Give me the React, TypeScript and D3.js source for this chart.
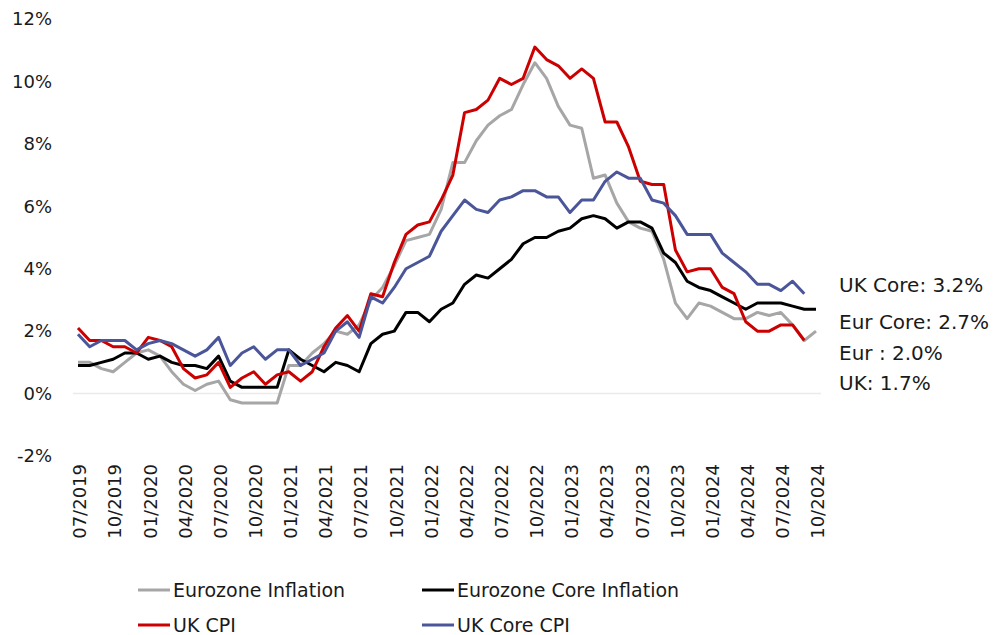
import React, { useEffect, useRef } from 'react';
import * as d3 from 'd3';

// monthly, 07/2019 .. 10/2024
const months: string[] = [];
for (let y = 2019; y <= 2024; y++) {
  for (let m = 1; m <= 12; m++) {
    if (y === 2019 && m < 7) continue;
    if (y === 2024 && m > 10) continue;
    months.push((m < 10 ? '0' + m : '' + m) + '/' + y);
  }
}

const tickLabels = [
  '07/2019', '10/2019', '01/2020', '04/2020', '07/2020', '10/2020', '01/2021', '04/2021',
  '07/2021', '10/2021', '01/2022', '04/2022', '07/2022', '10/2022', '01/2023', '04/2023',
  '07/2023', '10/2023', '01/2024', '04/2024', '07/2024', '10/2024',
];

const yTicks = [-2, 0, 2, 4, 6, 8, 10, 12];

const euroInflation = [
  1.0, 1.0, 0.8, 0.7, 1.0, 1.3,
  1.4, 1.2, 0.7, 0.3, 0.1, 0.3, 0.4, -0.2, -0.3, -0.3, -0.3, -0.3,
  0.9, 0.9, 1.3, 1.6, 2.0, 1.9, 2.2, 3.0, 3.4, 4.1, 4.9, 5.0,
  5.1, 5.9, 7.4, 7.4, 8.1, 8.6, 8.9, 9.1, 9.9, 10.6, 10.1, 9.2,
  8.6, 8.5, 6.9, 7.0, 6.1, 5.5, 5.3, 5.2, 4.3, 2.9, 2.4, 2.9,
  2.8, 2.6, 2.4, 2.4, 2.6, 2.5, 2.6, 2.2, 1.7, 2.0,
];

const euroCore = [
  0.9, 0.9, 1.0, 1.1, 1.3, 1.3,
  1.1, 1.2, 1.0, 0.9, 0.9, 0.8, 1.2, 0.4, 0.2, 0.2, 0.2, 0.2,
  1.4, 1.1, 0.9, 0.7, 1.0, 0.9, 0.7, 1.6, 1.9, 2.0, 2.6, 2.6,
  2.3, 2.7, 2.9, 3.5, 3.8, 3.7, 4.0, 4.3, 4.8, 5.0, 5.0, 5.2,
  5.3, 5.6, 5.7, 5.6, 5.3, 5.5, 5.5, 5.3, 4.5, 4.2, 3.6, 3.4,
  3.3, 3.1, 2.9, 2.7, 2.9, 2.9, 2.9, 2.8, 2.7, 2.7,
];

const ukCpi = [
  2.1, 1.7, 1.7, 1.5, 1.5, 1.3,
  1.8, 1.7, 1.5, 0.8, 0.5, 0.6, 1.0, 0.2, 0.5, 0.7, 0.3, 0.6,
  0.7, 0.4, 0.7, 1.5, 2.1, 2.5, 2.0, 3.2, 3.1, 4.2, 5.1, 5.4,
  5.5, 6.2, 7.0, 9.0, 9.1, 9.4, 10.1, 9.9, 10.1, 11.1, 10.7, 10.5,
  10.1, 10.4, 10.1, 8.7, 8.7, 7.9, 6.8, 6.7, 6.7, 4.6, 3.9, 4.0,
  4.0, 3.4, 3.2, 2.3, 2.0, 2.0, 2.2, 2.2, 1.7,
];

const ukCore = [
  1.9, 1.5, 1.7, 1.7, 1.7, 1.4,
  1.6, 1.7, 1.6, 1.4, 1.2, 1.4, 1.8, 0.9, 1.3, 1.5, 1.1, 1.4,
  1.4, 0.9, 1.1, 1.3, 2.0, 2.3, 1.8, 3.1, 2.9, 3.4, 4.0, 4.2,
  4.4, 5.2, 5.7, 6.2, 5.9, 5.8, 6.2, 6.3, 6.5, 6.5, 6.3, 6.3,
  5.8, 6.2, 6.2, 6.8, 7.1, 6.9, 6.9, 6.2, 6.1, 5.7, 5.1, 5.1,
  5.1, 4.5, 4.2, 3.9, 3.5, 3.5, 3.3, 3.6, 3.2,
];

const series = [
  { name: 'Eurozone Inflation', values: euroInflation, color: '#A6A6A6' },
  { name: 'Eurozone Core Inflation', values: euroCore, color: '#000000' },
  { name: 'UK CPI', values: ukCpi, color: '#CC0000' },
  { name: 'UK Core CPI', values: ukCore, color: '#4A5699' },
];

const endLabels = ['UK Core: 3.2%', 'Eur Core: 2.7%', 'Eur : 2.0%', 'UK: 1.7%'];

const W = 993;
const H = 635;
const FONT = '"DejaVu Sans", sans-serif';

export default function App() {
  const svgRef = useRef<SVGSVGElement>(null);

  useEffect(() => {
    const svg = d3.select(svgRef.current);
    svg.selectAll('*').remove();

    const x = d3.scalePoint<string>().domain(months).range([78, 816]);
    const y = d3.scaleLinear().domain([-2, 12]).range([456, 19]);

    // zero line
    svg.append('line')
      .attr('x1', 73).attr('x2', 821)
      .attr('y1', y(0)).attr('y2', y(0))
      .attr('stroke', '#EAEAEA')
      .attr('stroke-width', 1.5);

    // y labels
    svg.append('g')
      .selectAll('text')
      .data(yTicks)
      .join('text')
      .attr('x', 52)
      .attr('y', d => y(d))
      .attr('dy', '0.35em')
      .attr('text-anchor', 'end')
      .attr('font-family', FONT)
      .attr('font-size', 18)
      .attr('fill', '#1a1a1a')
      .text(d => d + '%');

    // x labels
    svg.append('g')
      .selectAll('text')
      .data(tickLabels)
      .join('text')
      .attr('transform', d => `translate(${(x(d) as number) + 2},464) rotate(-90)`)
      .attr('dy', '0.35em')
      .attr('text-anchor', 'end')
      .attr('font-family', FONT)
      .attr('font-size', 18)
      .attr('fill', '#1a1a1a')
      .text(d => d);

    const line = d3.line<number>()
      .x((d, i) => x(months[i]) as number)
      .y(d => y(d));

    series.forEach(s => {
      svg.append('path')
        .attr('d', line(s.values))
        .attr('fill', 'none')
        .attr('stroke', s.color)
        .attr('stroke-width', 3)
        .attr('stroke-linejoin', 'round');
    });

    // end labels
    const labelY = [285, 322, 353, 383];
    svg.append('g')
      .selectAll('text')
      .data(endLabels)
      .join('text')
      .attr('x', 839)
      .attr('y', (d, i) => labelY[i])
      .attr('dy', '0.35em')
      .attr('font-family', FONT)
      .attr('font-size', 20)
      .attr('fill', '#1a1a1a')
      .text(d => d);

    // legend
    const legendPos = [
      { x: 138, y: 590 },
      { x: 422, y: 590 },
      { x: 138, y: 625 },
      { x: 422, y: 625 },
    ];
    const lg = svg.append('g');
    series.forEach((s, i) => {
      const p = legendPos[i];
      lg.append('line')
        .attr('x1', p.x).attr('x2', p.x + 32)
        .attr('y1', p.y).attr('y2', p.y)
        .attr('stroke', s.color)
        .attr('stroke-width', 3);
      lg.append('text')
        .attr('x', p.x + 35)
        .attr('y', p.y)
        .attr('dy', '0.35em')
        .attr('font-family', FONT)
        .attr('font-size', 19)
        .attr('fill', '#1a1a1a')
        .text(s.name);
    });
  }, []);

  return (
    <svg
      ref={svgRef}
      width={W}
      height={H}
      style={{ position: 'absolute', left: 0, top: 0, background: '#fff' }}
    />
  );
}
